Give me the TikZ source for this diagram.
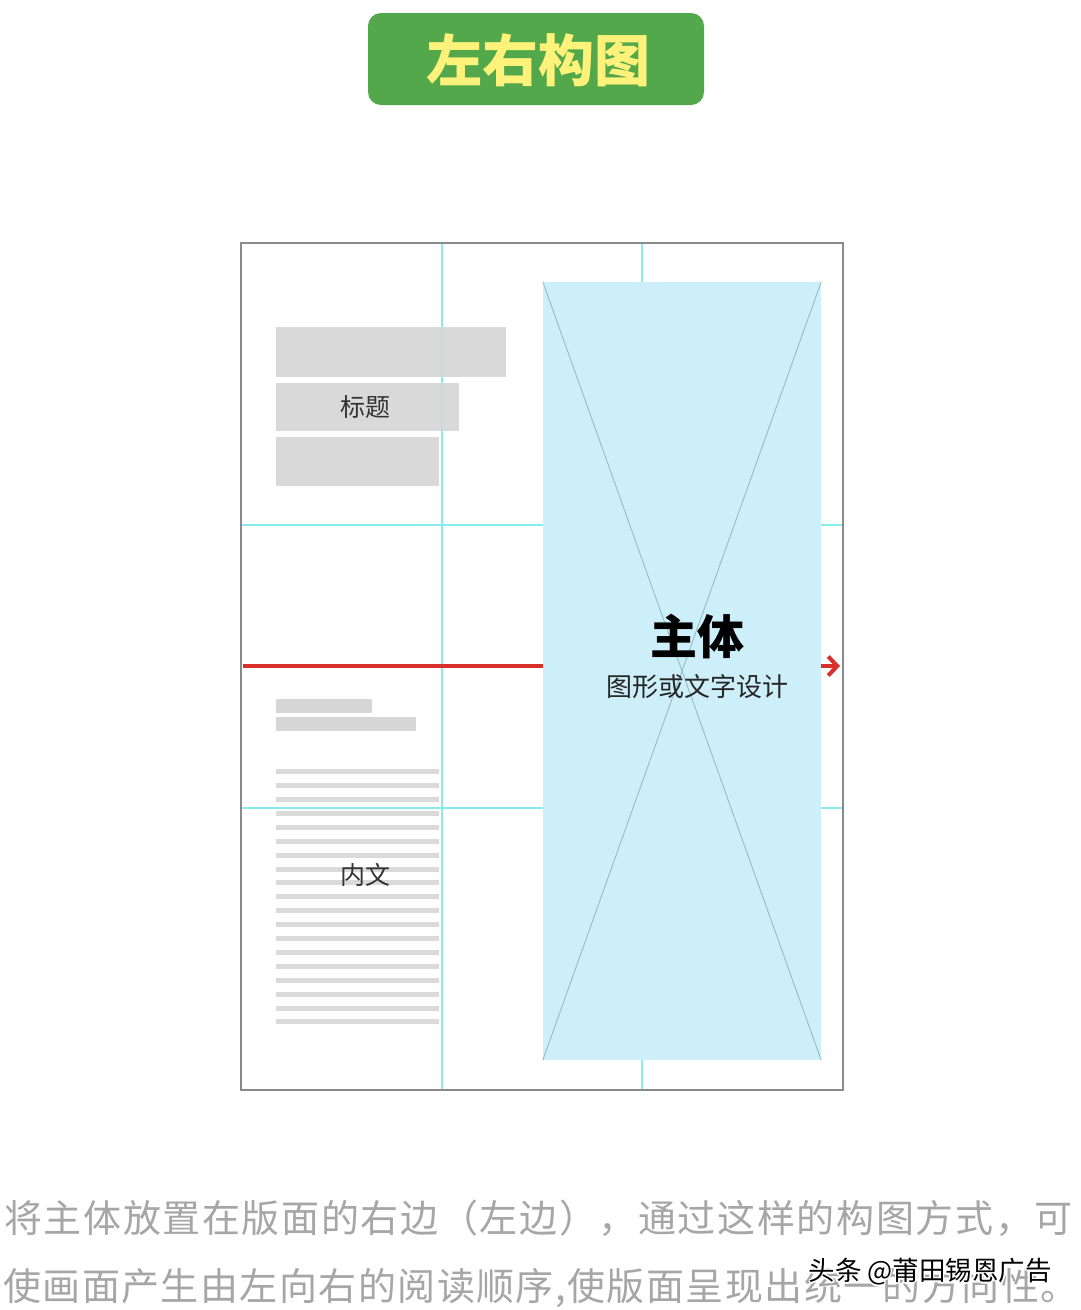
\documentclass[tikz,border=0pt]{standalone}
\usepackage{fontspec}
\newfontfamily\cjk{Noto Sans CJK SC}
\newfontfamily\cjka[LetterSpace=4.3]{Noto Sans CJK SC}
\newfontfamily\cjkb[LetterSpace=3.8]{Noto Sans CJK SC}
\usetikzlibrary{arrows.meta}
\definecolor{badge}{HTML}{52A84A}
\definecolor{badgetxt}{HTML}{FFF27A}
\definecolor{gridc}{HTML}{86ECF0}
\definecolor{framec}{HTML}{8A8A8A}
\definecolor{boxc}{HTML}{D6D6D6}
\definecolor{linec}{HTML}{DADADA}
\definecolor{mainc}{HTML}{CCEFFA}
\definecolor{diagc}{HTML}{8DB8C4}
\definecolor{redc}{HTML}{D9302C}
\definecolor{captc}{HTML}{A6A6A6}
\tikzset{
  gridline/.style={draw=gridc, line width=1.6pt},
  graybox/.style={fill=boxc, draw=none, fill opacity=0.92},
  txtline/.style={draw=linec, line width=5pt},
  label/.style={font=\cjk\fontsize{25}{30}\selectfont, text=black!80, inner sep=0pt},
  wmark/.style={font=\cjk\fontsize{26.5}{30}\selectfont, inner sep=0pt},
}
\begin{document}
\begin{tikzpicture}[x=1pt,y=-1pt]
\useasboundingbox (0,0) rectangle (1080,1310);
\fill[white] (0,0) rectangle (1080,1310);
% title badge
\node[fill=badge, rounded corners=13pt, minimum width=336pt, minimum height=92pt, inner sep=0pt] (badge) at (536,59) {};
\node[font=\cjk\bfseries\fontsize{56}{60}\selectfont, text=badgetxt, inner sep=0pt] (title) at (538,60) {左右构图};
% frame
\coordinate (fTL) at (241,243);
\coordinate (fBR) at (843,1090);
% grid lines
\draw[gridline] (442,243) -- (442,1090);
\draw[gridline] (642,243) -- (642,1090);
\draw[gridline] (241,525) -- (843,525);
\draw[gridline] (241,808) -- (843,808);
% main block
\node[fill=mainc, minimum width=278pt, minimum height=778pt, inner sep=0pt] (main) at (682,671) {};
\draw[diagc, line width=0.8pt] (main.north west) -- (main.south east);
\draw[diagc, line width=0.8pt] (main.north east) -- (main.south west);
% heading boxes
\node[graybox, minimum width=230pt, minimum height=50pt, inner sep=0pt] (h1) at (391,352) {};
\node[graybox, minimum width=183pt, minimum height=48pt, inner sep=0pt] (h2) at (367.5,407) {};
\node[graybox, minimum width=163pt, minimum height=49pt, inner sep=0pt] (h3) at (357.5,461.5) {};
\node[label] (htxt) at (365,407) {标题};
% red line and arrow
\coordinate (rs) at (243,666);
\coordinate (re) at (543,666);
\draw[redc, line width=4pt] (rs) -- (re);
\coordinate (as) at (821,666);
\coordinate (ae) at (840,666);
\draw[redc, line width=4pt, -{Straight Barb[length=9pt,width=19pt]}] (as) -- (ae);
% small bars
\node[fill=boxc, minimum width=96pt, minimum height=14pt, inner sep=0pt] (s1) at (324,706) {};
\node[fill=boxc, minimum width=140pt, minimum height=14pt, inner sep=0pt] (s2) at (346,724) {};
% text lines
\foreach \i in {0,...,18} {
  \draw[txtline] (276,{771.7+13.9*\i}) -- (439,{771.7+13.9*\i});
}
\draw[gridline] (241,808) -- (442,808);
\node[label] (btxt) at (365,875) {内文};
% frame border
\draw[framec, line width=1.5pt] (fTL) rectangle (fBR);
% main text
\node[font=\cjk\bfseries\fontsize{47}{52}\selectfont, text=black, inner sep=0pt] (zt) at (697,636) {主体};
\node[font=\cjk\fontsize{26}{30}\selectfont, text=black!85, inner sep=0pt] (zs) at (697,687) {图形或文字设计};
% caption
\node[font=\cjka\fontsize{38}{44}\selectfont, text=captc, inner sep=0pt, anchor=west] (c1) at (4,1218) {将主体放置在版面的右边（左边），通过这样的构图方式，可};
\node[font=\cjkb\fontsize{38}{44}\selectfont, text=captc, inner sep=0pt, anchor=west] (c2) at (3,1288) {使画面产生由左向右的阅读顺序,使版面呈现出统一的方向性。};
% watermark halo
\foreach \dx/\dy in {-1.5/0,1.5/0,0/-1.5,0/1.5,-1.1/-1.1,1.1/1.1,-1.1/1.1,1.1/-1.1} {
  \node[wmark, text=white] at ({930+\dx},{1272+\dy}) {头条 @莆田锡恩广告};
}
\node[wmark, text=black] (wm) at (930,1272) {头条 @莆田锡恩广告};
\end{tikzpicture}
\end{document}
